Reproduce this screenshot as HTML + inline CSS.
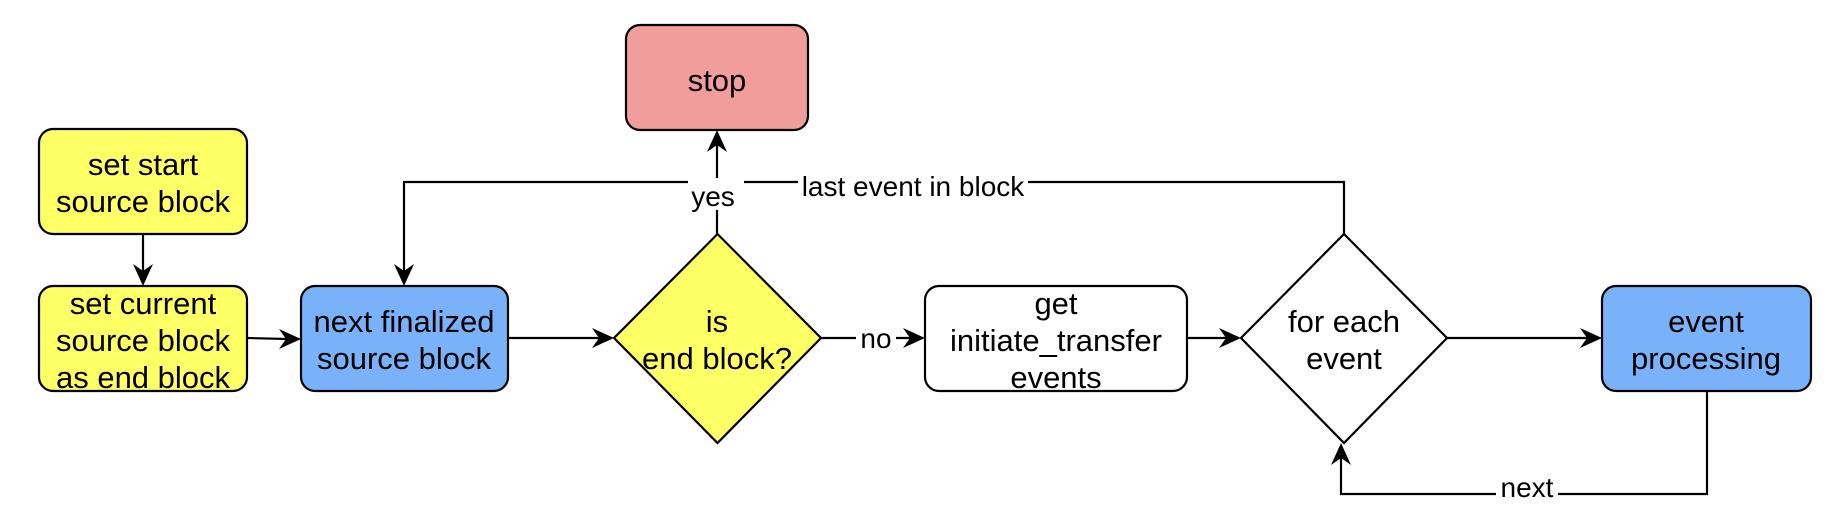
<!DOCTYPE html>
<html><head><meta charset="utf-8"><style>
html,body{margin:0;padding:0;background:#fff;}
svg{display:block;}
text{font-family:"Liberation Sans",Arial,sans-serif;fill:#000;}
.n{font-size:31px;text-anchor:middle;}
.l{font-size:28px;text-anchor:middle;}
</style></head><body>
<svg width="1824" height="516" viewBox="0 0 1824 516" xmlns="http://www.w3.org/2000/svg">
<g stroke="#000" stroke-width="2.2" fill="none">
<line x1="143" y1="234" x2="143" y2="272"/>
<line x1="247" y1="338" x2="287" y2="339"/>
<line x1="508" y1="338" x2="600" y2="338"/>
<line x1="717" y1="234" x2="717" y2="144"/>
<polyline points="1344,234 1344,182 404,182 404,272"/>
<line x1="821" y1="338" x2="911" y2="338"/>
<line x1="1187" y1="338" x2="1227" y2="338"/>
<line x1="1447" y1="338" x2="1588" y2="338"/>
<polyline points="1707,391 1707,494 1341,494 1341,457"/>
</g>
<g fill="#000">
<polygon points="143,286 133,264 143,271 153,264"/>
<polygon points="301,339 279,329 286,339 279,349"/>
<polygon points="614,338 592,328 599,338 592,348"/>
<polygon points="717,130 707,152 717,145 727,152"/>
<polygon points="404,286 394,264 404,271 414,264"/>
<polygon points="925,338 903,328 910,338 903,348"/>
<polygon points="1241,338 1219,328 1226,338 1219,348"/>
<polygon points="1602,338 1580,328 1587,338 1580,348"/>
<polygon points="1341,443 1331,465 1341,458 1351,465"/>
</g>
<rect x="688" y="178" width="56" height="32" fill="#fff"/>
<rect x="798" y="170" width="230" height="30" fill="#fff"/>
<rect x="856" y="325" width="40" height="26" fill="#fff"/>
<rect x="1496" y="478" width="62" height="24" fill="#fff"/>
<text class="l" x="713" y="206">yes</text>
<text class="l" x="913" y="196">last event in block</text>
<text class="l" x="876" y="348">no</text>
<text class="l" x="1527" y="497">next</text>
<g stroke="#000" stroke-width="2.2">
<rect x="39" y="129" width="208" height="105" rx="14" fill="#ffff66"/>
<rect x="39" y="286" width="208" height="105" rx="14" fill="#ffff66"/>
<rect x="301" y="286" width="207" height="105" rx="14" fill="#7ab2f9"/>
<rect x="626" y="25" width="182" height="105" rx="14" fill="#f19d9b"/>
<polygon points="717.5,234 821,338 717.5,443 614,338" fill="#ffff66"/>
<rect x="925" y="286" width="262" height="105" rx="14" fill="#fff"/>
<polygon points="1344,234 1447,338 1344,443 1241,338" fill="#fff"/>
<rect x="1602" y="286" width="209" height="105" rx="14" fill="#7ab2f9"/>
</g>
<text class="n" x="143" y="175">set start</text>
<text class="n" x="143" y="212">source block</text>
<text class="n" x="143" y="314">set current</text>
<text class="n" x="143" y="351">source block</text>
<text class="n" x="143" y="388">as end block</text>
<text class="n" x="404" y="332">next finalized</text>
<text class="n" x="404" y="369">source block</text>
<text class="n" x="717" y="91">stop</text>
<text class="n" x="717" y="332">is</text>
<text class="n" x="717" y="369">end block?</text>
<text class="n" x="1056" y="314">get</text>
<text class="n" x="1056" y="351">initiate_transfer</text>
<text class="n" x="1056" y="388">events</text>
<text class="n" x="1344" y="332">for each</text>
<text class="n" x="1344" y="369">event</text>
<text class="n" x="1706" y="332">event</text>
<text class="n" x="1706" y="369">processing</text>
</svg>
</body></html>
